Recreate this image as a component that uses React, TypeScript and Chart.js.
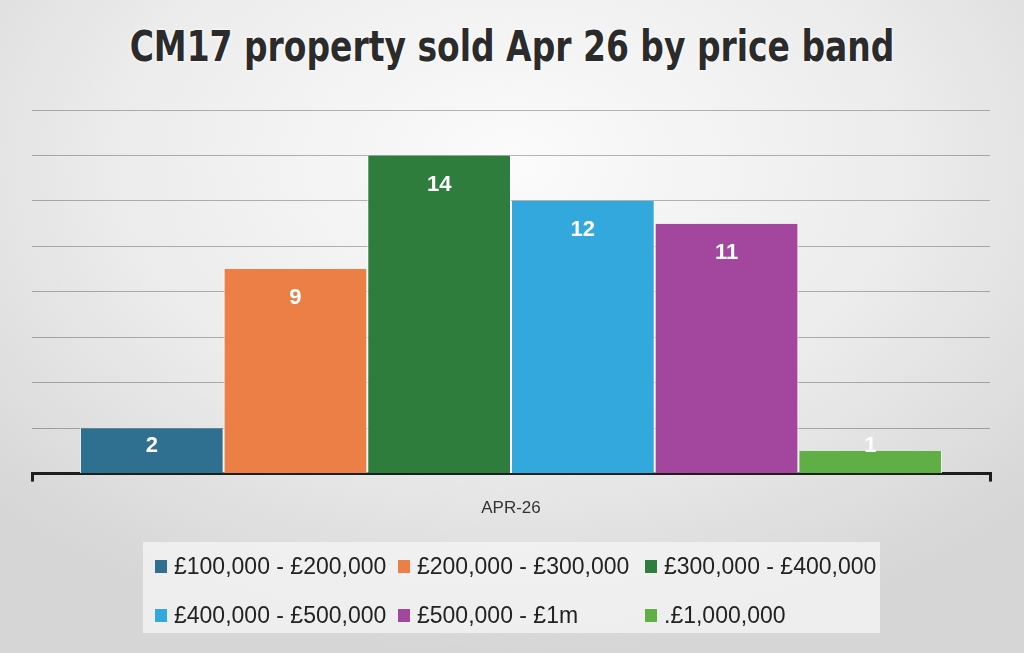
import { useEffect, useRef } from "react";
import { Chart, registerables } from "chart.js";

Chart.register(...registerables);

const categories = ["APR-26"];
const bands = [
  "£100,000 - £200,000",
  "£200,000 - £300,000",
  "£300,000 - £400,000",
  "£400,000 - £500,000",
  "£500,000 - £1m",
  ".£1,000,000",
];
const sold = [2, 9, 14, 12, 11, 1];
const colours = ["#2F6F8F", "#EB7F45", "#2F7D3C", "#32A8DC", "#A2469E", "#60AE46"];

// value labels inside the top of each bar, like the Excel original
const valueLabels = {
  id: "valueLabels",
  afterDatasetsDraw(chart: Chart) {
    const { ctx } = chart;
    ctx.save();
    ctx.fillStyle = "#ffffff";
    ctx.font = "bold 22px 'Liberation Sans', Arial, sans-serif";
    ctx.textAlign = "center";
    ctx.textBaseline = "middle";
    chart.data.datasets.forEach((ds, i) => {
      const bar = chart.getDatasetMeta(i).data[0] as any;
      if (!bar) return;
      const y = Math.min(bar.y + 29, bar.base - 27);
      ctx.fillText(String(ds.data[0]), bar.x, y);
    });
    ctx.restore();
  },
};

export default function App() {
  const canvasRef = useRef<HTMLCanvasElement | null>(null);
  const chartRef = useRef<Chart | null>(null);

  useEffect(() => {
    document.body.style.margin = "0";
    const ctx = canvasRef.current?.getContext("2d");
    if (!ctx) return;

    chartRef.current = new Chart(ctx, {
      type: "bar",
      data: {
        labels: categories,
        datasets: bands.map((b, i) => ({
          label: b,
          data: [sold[i]],
          backgroundColor: colours[i],
          borderColor: "#ffffff",
          borderWidth: { left: 1, right: 1, top: 0, bottom: 0 },
          borderSkipped: false,
        })),
      },
      options: {
        animation: false,
        responsive: false,
        layout: { padding: { top: 110, left: 32, right: 34, bottom: 117 } },
        datasets: { bar: { categoryPercentage: 0.9, barPercentage: 1 } },
        plugins: {
          legend: { display: false },
          tooltip: { enabled: false },
        },
        scales: {
          x: {
            grid: {
              display: true,
              drawOnChartArea: false,
              drawTicks: true,
              tickLength: 8,
              color: "#1e1e1e",
              lineWidth: 3,
            },
            border: { display: true, color: "#1e1e1e", width: 3 },
            ticks: {
              color: "#333333",
              padding: 17,
              font: { family: "'Liberation Sans', Arial, sans-serif", size: 17 },
            },
          },
          y: {
            min: 0,
            max: 16,
            z: 1,
            ticks: { display: false, stepSize: 2 },
            border: { display: false },
            grid: { drawTicks: false, color: "rgba(0,0,0,0.28)", lineWidth: 1 },
          },
        },
      },
      plugins: [valueLabels],
    });

    return () => {
      chartRef.current?.destroy();
      chartRef.current = null;
    };
  }, []);

  return (
    <div
      style={{
        position: "absolute",
        left: 0,
        top: 0,
        width: 1024,
        height: 653,
        overflow: "hidden",
        background:
          "radial-gradient(ellipse 70% 75% at 50% 25%, #fbfbfb 0%, #ececec 55%, #d6d6d6 100%)",
      }}
    >
      <div
        style={{
          position: "absolute",
          left: 0,
          top: 22,
          width: 1024,
          textAlign: "center",
          fontFamily: "'DejaVu Sans', sans-serif",
          fontWeight: "bold",
          fontSize: 42,
          color: "#2b2b2b",
          transform: "scaleX(0.785)",
          textShadow: "0 0 4px #ffffff, 0 0 2px #ffffff",
        }}
      >
        CM17 property sold Apr 26 by price band
      </div>
      <canvas ref={canvasRef} width={1024} height={653} style={{ position: "absolute", left: 0, top: 0 }} />
      <div
        style={{
          position: "absolute",
          left: 143,
          top: 542,
          width: 737,
          height: 91,
          background: "rgba(245,245,245,0.75)",
        }}
      >
        {bands.map((b, i) => (
          <div
            key={b}
            style={{
              position: "absolute",
              left: [12, 255, 502][i % 3],
              top: i < 3 ? 11 : 60,
              height: 26,
              lineHeight: "26px",
              display: "flex",
              alignItems: "center",
              fontFamily: "'Liberation Sans', Arial, sans-serif",
              fontSize: 23,
              color: "#222222",
              whiteSpace: "nowrap",
            }}
          >
            <span
              style={{
                display: "inline-block",
                width: 12,
                height: 13,
                background: colours[i],
                marginRight: 7,
              }}
            />
            {b}
          </div>
        ))}
      </div>
    </div>
  );
}
